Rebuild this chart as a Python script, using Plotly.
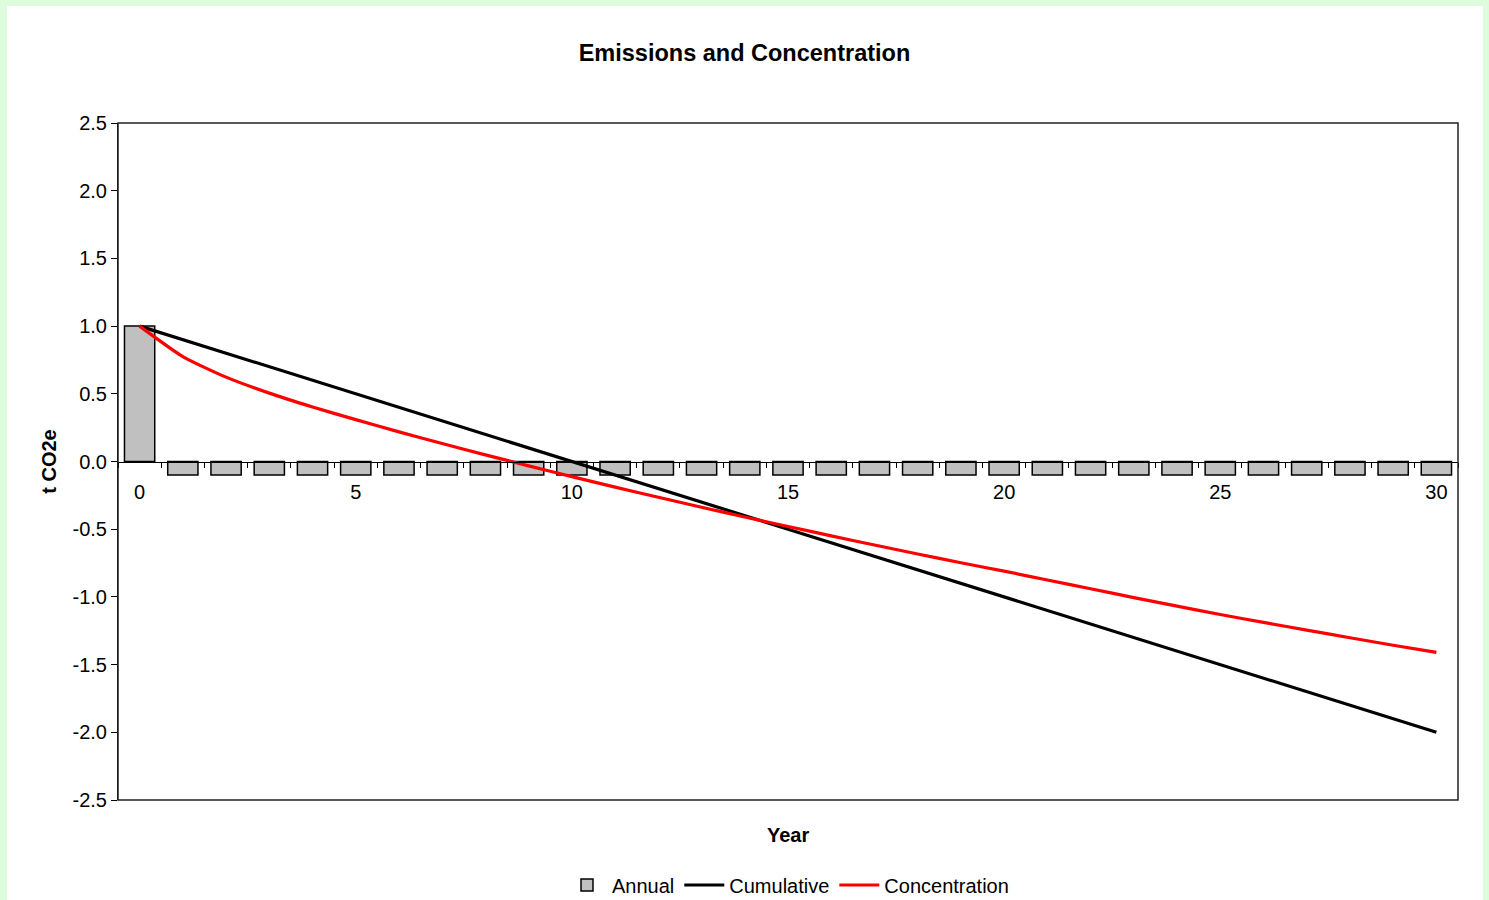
import plotly.graph_objects as go

# Years since the one-off emission
years = list(range(0, 31))

# Annual emissions (t CO2e): one pulse in year 0, then a constant removal
annual = [1.0] + [-0.1] * 30

# Cumulative emissions (t CO2e)
cumulative = [1.0, 0.9, 0.8, 0.7, 0.6, 0.5, 0.4, 0.3, 0.2, 0.1, 0.0,
              -0.1, -0.2, -0.3, -0.4, -0.5, -0.6, -0.7, -0.8, -0.9, -1.0,
              -1.1, -1.2, -1.3, -1.4, -1.5, -1.6, -1.7, -1.8, -1.9, -2.0]

# Atmospheric concentration change (t CO2e)
concentration = [1.0, 0.775, 0.623, 0.505, 0.403, 0.309, 0.219, 0.133, 0.049, -0.032, -0.112,
                 -0.189, -0.264, -0.338, -0.410, -0.480, -0.549, -0.617, -0.683, -0.748, -0.810,
                 -0.875, -0.940, -1.005, -1.068, -1.130, -1.188, -1.245, -1.302, -1.357, -1.410]

y_ticks = [-2.5, -2.0, -1.5, -1.0, -0.5, 0.0, 0.5, 1.0, 1.5, 2.0, 2.5]
x_ticks = [0, 5, 10, 15, 20, 25, 30]

FONT = "Liberation Sans, Arial, sans-serif"
W, H = 1489, 900
L, R, T, B = 118, 31, 123, 100
PW, PH = W - L - R, H - T - B


def px_to_paper_x(px):
    return (px - L) / PW


def px_to_paper_y(py):
    return (H - B - py) / PH


fig = go.Figure()

fig.add_trace(go.Bar(
    x=years, y=annual, name="Annual", width=0.7,
    marker=dict(color="#c0c0c0", line=dict(color="black", width=1.5)),
))
fig.add_trace(go.Scatter(
    x=years, y=cumulative, name="Cumulative", mode="lines",
    line=dict(color="black", width=3.2),
))
fig.add_trace(go.Scatter(
    x=years, y=concentration, name="Concentration", mode="lines",
    line=dict(color="#ff0000", width=3.2, shape="spline", smoothing=0.6),
))

fig.update_layout(
    width=W, height=H,
    margin=dict(l=L, r=R, t=T, b=B, autoexpand=False),
    paper_bgcolor="#dcfcdc",
    plot_bgcolor="white",
    font=dict(family=FONT, color="black", size=20),
    showlegend=True,
    title=dict(text="<b>Emissions and Concentration</b>",
               x=0.5, xref="container", xanchor="center",
               y=1 - 53 / H, yref="container", yanchor="middle",
               font=dict(size=23.5, family=FONT, color="black")),
    legend=dict(orientation="h", x=0.5, xanchor="center",
                y=px_to_paper_y(885), yanchor="middle",
                font=dict(size=20, family=FONT), itemwidth=40,
                traceorder="normal", bgcolor="rgba(0,0,0,0)"),
    bargap=0.3,
    xaxis=dict(
        range=[-0.5, 30.5], anchor="free", position=0.5,
        showline=True, linecolor="black", linewidth=1,
        showgrid=False, zeroline=False,
        tickmode="array", tickvals=x_ticks, ticktext=[str(v) for v in x_ticks],
        ticks="outside", ticklen=12, tickcolor="rgba(0,0,0,0)",
        tickfont=dict(size=20, family=FONT),
        minor=dict(tick0=-0.5, dtick=1, ticks="outside", ticklen=5,
                   tickcolor="black", tickwidth=1, showgrid=False),
    ),
    yaxis=dict(
        range=[-2.5, 2.5], domain=[0, 1],
        showline=True, linecolor="black", linewidth=1,
        showgrid=False, zeroline=False,
        tickmode="array", tickvals=y_ticks,
        ticktext=[f"{v:.1f}" for v in y_ticks],
        ticks="outside", ticklen=6, tickcolor="black",
        tickfont=dict(size=20, family=FONT),
        title=dict(text="<b>t CO2e</b>", standoff=10,
                   font=dict(size=20, family=FONT)),
    ),
    shapes=[
        # white chart area inside the green frame
        dict(type="rect", xref="paper", yref="paper", layer="below",
             x0=px_to_paper_x(7), x1=px_to_paper_x(1483),
             y0=px_to_paper_y(H + 20), y1=px_to_paper_y(6),
             fillcolor="white", line=dict(width=0)),
        # plot area border
        dict(type="rect", xref="paper", yref="paper", layer="above",
             x0=0, x1=1, y0=0, y1=1,
             fillcolor="rgba(0,0,0,0)", line=dict(color="#222222", width=1.5)),
    ],
    annotations=[
        dict(text="<b>Year</b>", xref="paper", yref="paper",
             x=0.5, y=px_to_paper_y(835), xanchor="center", yanchor="middle",
             showarrow=False, font=dict(size=20, family=FONT)),
    ],
)

fig.write_html("out.html")
